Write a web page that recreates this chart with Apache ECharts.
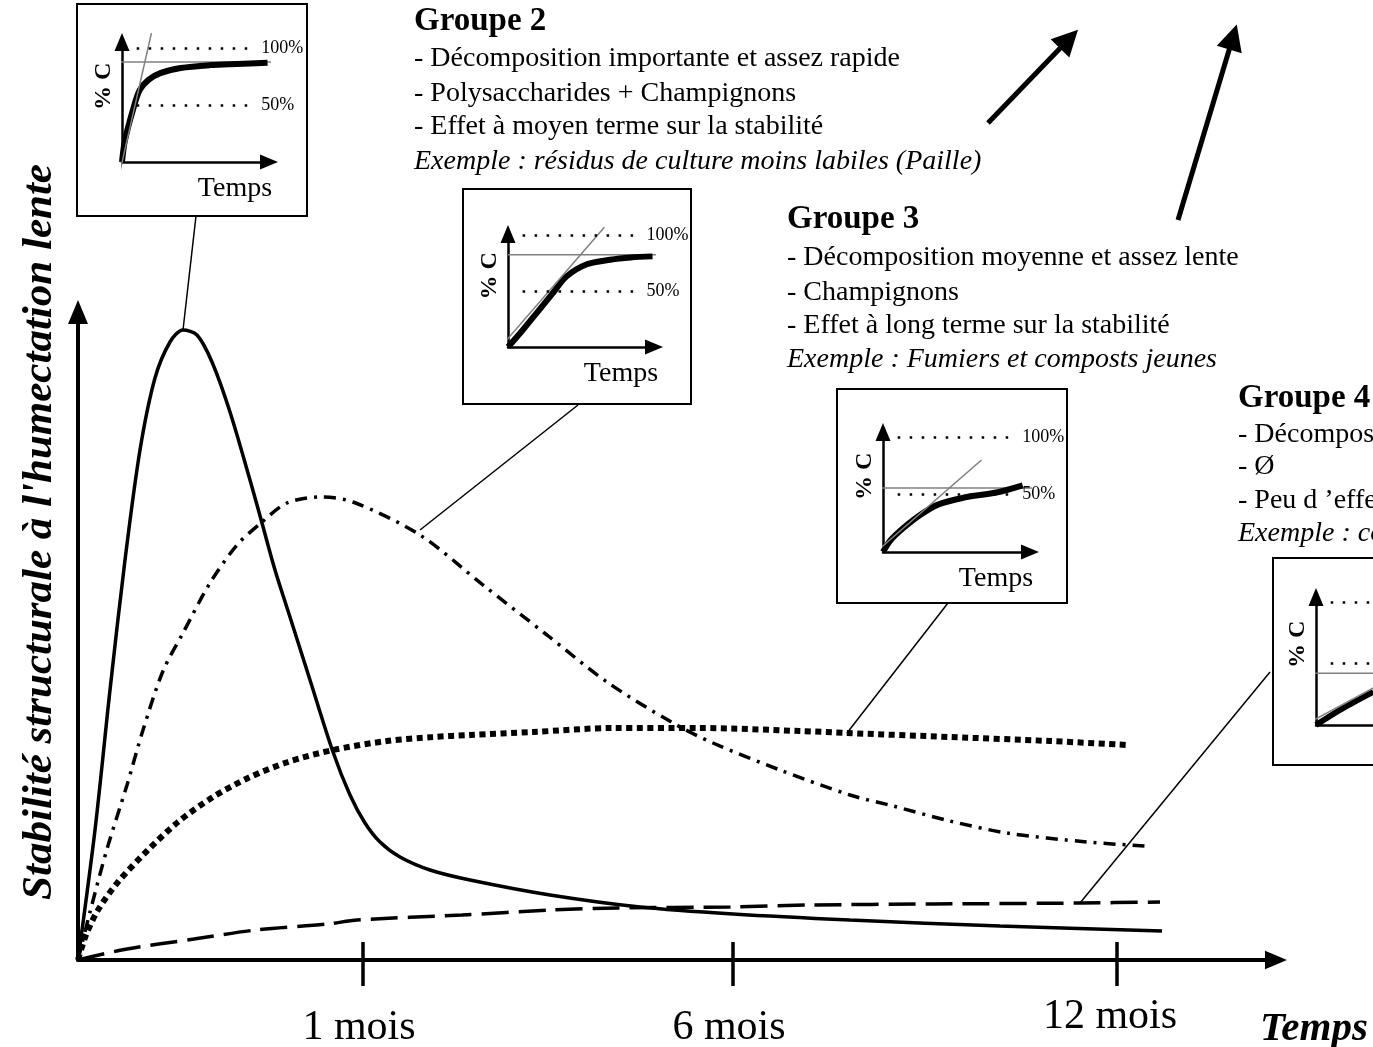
<!DOCTYPE html>
<html><head><meta charset="utf-8">
<script src="https://cdn.jsdelivr.net/npm/echarts@6/dist/echarts.min.js"></script>
<style>html,body{margin:0;padding:0;background:#fff}#c{width:1373px;height:1047px}</style>
</head><body><div id="c"></div><script>
// ================= DATA =================
const timeTickValues = [285, 655, 1039];
const timeTickLabels = ['1 mois', '6 mois', '12 mois'];
const xTitle = 'Temps';
const yTitle = "Stabilité structurale à l'humectation lente";

// main curves (arbitrary units)
const groupe1 = [[0,0],[17,130],[32,270],[47,400],[62,510],[77,582],[92,618],[105,630],[119,625],[134,598],[152,548],[172,480],[184,437],[197,390],[212,343],[232,280],[255,208],[272,165],[287,137],[302,118],[322,103],[352,90],[392,80],[472,65],[562,53],[655,46],[772,40],[922,34],[1084,29]];
const groupe2 = [[0,0],[12,48],[29,111],[49,175],[65,230],[85,289],[105,327],[132,377],[159,415],[184,438],[209,457],[242,463],[275,458],[342,425],[405,375],[469,325],[529,278],[595,237],[635,217],[702,190],[772,165],[815,154],[872,139],[929,127],[1009,118],[1067,114]];
const groupe3 = [[0,0],[8,25],[20,50],[40,78],[70,110],[100,138],[135,163],[170,182],[210,198],[255,210],[309,219],[355,223],[392,225],[455,228],[535,232],[622,232],[722,229],[769,227],[872,223],[972,219],[1049,215]];
const groupe4 = [[0,0],[49,11],[116,21],[178,30],[250,36],[279,40],[384,45],[473,50],[540,52],[652,53],[732,55],[855,56],[1002,57],[1082,58]];

// callout segments (curve -> inset box) and the two top arrows, same units
const callouts = [[[105,630],[118,744]], [[342,430],[500,555]], [[769,227],[870,357]], [[1002,57],[1192,288]]];
const topArrows = [[[910,837],[991,921]], [[1100,740],[1155,923]]];

// insets: x 0-100 along the time axis, y in % C
const refLevels = [100, 50];
const refLabels = ['100%', '50%'];
const inset1Curve = [[0,0],[2,19],[7.5,46],[12,63],[18,72],[26,78],[40,82.5],[60,85],[78,86],[99,87]];
const inset1Tangent = [[-3,-17.5],[20,113]];
const inset1Plateau = [[-10,87.7],[107,87.7]];
const inset2Curve = [[0,0],[10,15],[20,31],[30,47],[40,63],[54,74],[70,78],[84,80],[99,81]];
const inset2Tangent = [[-11,-9],[66,107]];
const inset2Plateau = [[0,82.5],[109,82.5]];
const inset3Curve = [[0,0],[5,10],[14,21],[25,32],[37,41],[54,47],[78,52],[95,58]];
const inset3Tangent = [[-21,-18],[67,80]];
const inset3Plateau = [[-2,55.7],[105,55.7]];
const inset4Curve = [[0,0],[16,12],[39,27]];
const inset4Tangent = [[-14,-4],[45,34]];
const inset4Plateau = [[-10,42],[105,42]];
const insetYLabel = '% C';
const insetXLabel = 'Temps';

const groupe2Text = ['Groupe 2', '- Décomposition importante et assez rapide', '- Polysaccharides + Champignons', '- Effet à moyen terme sur la stabilité', 'Exemple : résidus de culture moins labiles (Paille)'];
const groupe3Text = ['Groupe 3', '- Décomposition moyenne et assez lente', '- Champignons', '- Effet à long terme sur la stabilité', 'Exemple : Fumiers et composts jeunes'];
const groupe4Text = ['Groupe 4', '- Décomposition faible et très lente', '- Ø', '- Peu d ’effet sur la stabilité', 'Exemple : composts mûrs'];

// ================= LAYOUT =================
const FONT = '"Liberation Serif", "Times New Roman", serif';
const TRI = 'path://M5,0L10,12L0,12Z';
const insets = [
  {ox:122, oy:162, xLen:147, yLen:120, ppp:1.14, box:[77,4,230,212], curve:inset1Curve, tan:inset1Tangent, plat:inset1Plateau},
  {ox:508, oy:347, xLen:146, yLen:113, ppp:1.12, box:[463,189,228,215], curve:inset2Curve, tan:inset2Tangent, plat:inset2Plateau},
  {ox:883, oy:552, xLen:147, yLen:120, ppp:1.15, box:[837,389,230,214], curve:inset3Curve, tan:inset3Tangent, plat:inset3Plateau},
  {ox:1316, oy:725, xLen:147, yLen:128, ppp:1.23, box:[1273,558,230,207], curve:inset4Curve, tan:inset4Tangent, plat:inset4Plateau}
];
const textBlocks = [
  {x:414, ys:[21,59,94,127,162], lines:groupe2Text},
  {x:787, ys:[219,258,293,326,360], lines:groupe3Text},
  {x:1238, ys:[398,435,467,501,534], lines:groupe4Text}
];

const chart = echarts.init(document.getElementById('c'), null, {renderer:'canvas'});

const grids = [{left:78, top:312, width:1198, height:648, outerBoundsMode:'none'}];
const xAxes = [
  {gridIndex:0, type:'value', min:0, max:1198,
   axisLine:{show:true, onZero:false, lineStyle:{color:'#000', width:4}, symbol:['none', TRI], symbolSize:[22,22]},
   axisTick:{show:true, inside:false, length:26, lineStyle:{color:'#000', width:3.5}, customValues:timeTickValues},
   axisLabel:{show:true, customValues:timeTickValues, margin:34, color:'#000',
     formatter:function(v){const i=timeTickValues.indexOf(v); const t=timeTickLabels[i]||''; return i===2?'{h|'+t+'}':'{n|'+t+'}';},
     rich:{n:{fontFamily:FONT, fontSize:42, lineHeight:44, color:'#000', padding:[24,8,0,0]},
           h:{fontFamily:FONT, fontSize:42, lineHeight:44, color:'#000', padding:[2,14,0,0]}}},
   splitLine:{show:false}},
  {gridIndex:0, type:'value', min:0, max:1198, position:'bottom',
   axisLine:{show:false, onZero:false},
   axisTick:{show:true, inside:true, length:18, lineStyle:{color:'#000', width:3.5}, customValues:timeTickValues},
   axisLabel:{show:false}, splitLine:{show:false}}
];
const yAxes = [
  {gridIndex:0, type:'value', min:0, max:648,
   axisLine:{show:true, onZero:false, lineStyle:{color:'#000', width:4}, symbol:['none', TRI], symbolSize:[20,24]},
   axisTick:{show:false}, axisLabel:{show:false}, splitLine:{show:false}}
];

const series = [
  {name:'Groupe 1', type:'line', xAxisIndex:0, yAxisIndex:0, data:groupe1, smooth:0.3, symbol:'none', clip:false,
   lineStyle:{color:'#000', width:3.5}},
  {name:'Groupe 2', type:'line', xAxisIndex:0, yAxisIndex:0, data:groupe2, smooth:0.3, symbol:'none', clip:false,
   lineStyle:{color:'#000', width:3.5, type:[12,7,3,7]}},
  {name:'Groupe 3', type:'line', xAxisIndex:0, yAxisIndex:0, data:groupe3, smooth:0.3, symbol:'none', clip:false,
   lineStyle:{color:'#000', width:6, type:[6,4.5], cap:'butt'}},
  {name:'Groupe 4', type:'line', xAxisIndex:0, yAxisIndex:0, data:groupe4, smooth:0.3, symbol:'none', clip:false,
   lineStyle:{color:'#000', width:3.5, type:[27,10]}},
  {name:'callouts', type:'lines', coordinateSystem:'cartesian2d', xAxisIndex:0, yAxisIndex:0, clip:false, silent:true,
   data:callouts.map(c=>({coords:c})), symbol:['none','none'], lineStyle:{color:'#000', width:1.5, opacity:1, curveness:0}},
  {name:'arrows', type:'lines', coordinateSystem:'cartesian2d', xAxisIndex:0, yAxisIndex:0, clip:false, silent:true,
   data:topArrows.map(c=>({coords:c})), symbol:['none', TRI], symbolSize:[22,26], lineStyle:{color:'#000', width:5, opacity:1, curveness:0}}
];

const graphics = [];
insets.forEach(function(s, i){
  const gi = i + 1;
  grids.push({left:s.ox, top:s.oy - s.yLen, width:s.xLen, height:s.yLen, outerBoundsMode:'none'});
  xAxes.push({gridIndex:gi, type:'value', min:0, max:100,
    axisLine:{show:true, onZero:false, lineStyle:{color:'#000', width:2.5}, symbol:['none', TRI], symbolSize:[18,18]},
    axisTick:{show:false}, axisLabel:{show:false}, splitLine:{show:false}});
  yAxes.push({gridIndex:gi, type:'value', min:0, max:Math.max(101, s.yLen / s.ppp),
    axisLine:{show:true, onZero:false, lineStyle:{color:'#000', width:2.5}, symbol:['none', TRI], symbolSize:[18,18]},
    axisTick:{show:false}, axisLabel:{show:false}, splitLine:{show:false}});
  const xi = gi + 1, yi = gi;
  series.push({type:'line', xAxisIndex:xi, yAxisIndex:yi, data:s.plat, symbol:'none', clip:false, silent:true,
    lineStyle:{color:'#808080', width:1.5}});
  series.push({type:'line', xAxisIndex:xi, yAxisIndex:yi, data:s.curve, smooth:0.3, symbol:'none', clip:false, silent:true,
    lineStyle:{color:'#000', width:6, cap:'butt'},
    markLine:{silent:true, symbol:['none','none'], animation:false,
      lineStyle:{color:'#000', width:2.5, type:[2.5,9.5]},
      label:{show:true, position:'end', distance:10, formatter:'{b}', color:'#000', fontFamily:FONT, fontSize:18},
      data:refLevels.map(function(l, k){return [{coord:[10,l], name:refLabels[k]},{coord:[88,l]}];})}});
  series.push({type:'line', xAxisIndex:xi, yAxisIndex:yi, data:s.tan, symbol:'none', clip:false, silent:true,
    lineStyle:{color:'#7f7f7f', width:1.5}});
  graphics.push({type:'rect', silent:true, shape:{x:s.box[0], y:s.box[1], width:s.box[2], height:s.box[3]},
    style:{fill:'none', stroke:'#000', lineWidth:2}});
  graphics.push({type:'text', silent:true, x:s.ox - 18, y:s.oy - s.yLen*0.63, rotation:Math.PI/2,
    style:{text:insetYLabel, font:'bold 24px ' + FONT, fill:'#000', align:'center', verticalAlign:'middle'}});
  graphics.push({type:'text', silent:true, x:s.ox + 113, y:s.oy + 27,
    style:{text:insetXLabel, font:'28px ' + FONT, fill:'#000', align:'center', verticalAlign:'middle'}});
});

textBlocks.forEach(function(b){
  b.lines.forEach(function(t, k){
    const f = k === 0 ? 'bold 33px ' : (k === b.lines.length - 1 ? 'italic 28px ' : '28px ');
    graphics.push({type:'text', silent:true, x:b.x, y:b.ys[k],
      style:{text:t, font:f + FONT, fill:'#000', align:'left', verticalAlign:'middle'}});
  });
});
graphics.push({type:'text', silent:true, x:40, y:532, rotation:Math.PI/2,
  style:{text:yTitle, font:'italic bold 43px ' + FONT, fill:'#000', align:'center', verticalAlign:'middle'}});
graphics.push({type:'text', silent:true, x:1314, y:1029,
  style:{text:xTitle, font:'italic bold 41px ' + FONT, fill:'#000', align:'center', verticalAlign:'middle'}});

chart.setOption({
  animation:false,
  backgroundColor:'#fff',
  grid:grids, xAxis:xAxes, yAxis:yAxes, series:series, graphic:graphics
});
</script></body></html>
